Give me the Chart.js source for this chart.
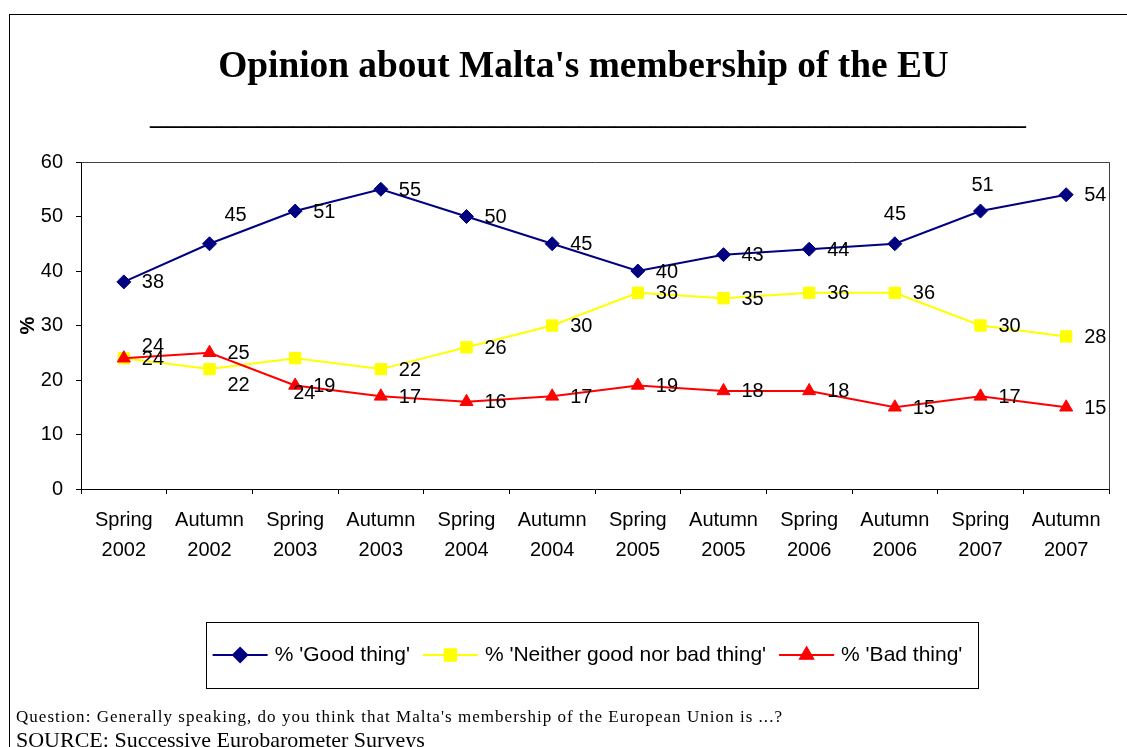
<!DOCTYPE html>
<html>
<head>
<meta charset="utf-8">
<script src="https://cdn.jsdelivr.net/npm/chart.js@4.4.1/dist/chart.umd.min.js"></script>
<style>
html,body{margin:0;padding:0;background:#fff;overflow:hidden;width:1127px;height:747px;}
#wrap{position:relative;width:1127px;height:747px;overflow:hidden;}
#frame{position:absolute;left:9px;top:14px;width:1200px;height:800px;border:1px solid #000;box-sizing:border-box;pointer-events:none;}
canvas{position:absolute;left:0;top:0;}
.note{position:absolute;left:16px;font-family:'Liberation Serif','Times New Roman',serif;color:#000;white-space:nowrap;line-height:1;}
</style>
</head>
<body>
<div id="wrap">
<canvas id="c" width="1127" height="747"></canvas>
<div id="frame"></div>
<div class="note" id="q"></div>
<div class="note" id="s"></div>
</div>
<script>
// ---------- data ----------
const categories = [
  ["Spring","2002"],["Autumn","2002"],["Spring","2003"],["Autumn","2003"],
  ["Spring","2004"],["Autumn","2004"],["Spring","2005"],["Autumn","2005"],
  ["Spring","2006"],["Autumn","2006"],["Spring","2007"],["Autumn","2007"]
];
const goodThing    = [38,45,51,55,50,45,40,43,44,45,51,54];
const neitherThing = [24,22,24,22,26,30,36,35,36,36,30,28];
const badThing     = [24,25,19,17,16,17,19,18,18,15,17,15];
const yTicks = [0,10,20,30,40,50,60];
const seriesNames = ["% 'Good thing'","% 'Neither good nor bad thing'","% 'Bad thing'"];
const chartTitle = "Opinion about Malta's membership of the EU";
const titleRule = "_".repeat(49);
const yAxisTitle = "%";
const questionText = "Question: Generally speaking, do you think that Malta's membership of the European Union is ...?";
const sourceText = "SOURCE: Successive Eurobarometer Surveys";

// ---------- style ----------
const SANS = "'Liberation Sans', Arial, sans-serif";
const SERIF = "'Liberation Serif', 'Times New Roman', serif";
// label nudges (per dataset index -> point index -> [dx,dy]) relative to default right-side placement
const labelNudge = [
  {1:[-3,-29], 9:[-29,-30], 10:[-27,-27]},
  {0:[0,-13], 1:[0,15], 2:[-20,34]},
  {}
];

const mctx = document.createElement('canvas').getContext('2d');
function fitFont(text, weight, family, target, base){
  mctx.font = `${weight} ${base}px ${family}`;
  const w = mctx.measureText(text).width;
  return base * target / w;
}

// footer notes
(function(){
  const q = document.getElementById('q');
  const s = document.getElementById('s');
  q.textContent = questionText;
  s.textContent = sourceText;
  const qs = 17;
  mctx.font = `${qs}px ${SERIF}`;
  const qw = mctx.measureText(questionText).width;
  q.style.fontSize = qs + 'px';
  q.style.letterSpacing = ((767 - qw) / questionText.length) + 'px';
  q.style.top = '708px';
  const ss = fitFont(sourceText, 'normal', SERIF, 409, 20);
  s.style.fontSize = ss + 'px';
  s.style.top = '729px';
})();

const decor = {
  id: 'decor',
  beforeDatasetsDraw(chart){
    const {ctx, chartArea:a} = chart;
    ctx.save();
    ctx.strokeStyle = '#404040';
    ctx.lineWidth = 1;
    ctx.beginPath();
    ctx.moveTo(Math.round(a.left)+0.5, Math.round(a.top)+0.5);
    ctx.lineTo(Math.round(a.right)+0.5, Math.round(a.top)+0.5);
    ctx.lineTo(Math.round(a.right)+0.5, Math.round(a.bottom)+0.5);
    ctx.stroke();
    ctx.restore();
  },
  afterDatasetsDraw(chart){
    const ctx = chart.ctx;
    ctx.save();
    ctx.font = `20px ${SANS}`;
    ctx.fillStyle = '#000';
    ctx.textAlign = 'left';
    ctx.textBaseline = 'middle';
    chart.data.datasets.forEach((ds, i) => {
      const meta = chart.getDatasetMeta(i);
      meta.data.forEach((pt, j) => {
        const n = labelNudge[i][j] || [0,0];
        ctx.fillText(String(ds.data[j]), pt.x + 18 + n[0], pt.y + 1 + n[1]);
      });
    });
    ctx.restore();
  },
  afterDraw(chart){
    const ctx = chart.ctx;
    ctx.save();
    // title
    const ts = fitFont(chartTitle, 'bold', SERIF, 731, 36);
    ctx.font = `bold ${ts}px ${SERIF}`;
    ctx.fillStyle = '#000';
    ctx.textAlign = 'center';
    ctx.textBaseline = 'alphabetic';
    ctx.fillText(chartTitle, 583.5, 77);
    // underscore rule
    const rs = fitFont(titleRule, 'normal', SERIF, 876, 36);
    ctx.font = `${rs}px ${SERIF}`;
    ctx.fillText(titleRule, 588, 123);

    // legend
    ctx.font = `21px ${SANS}`;
    const lineLen = 55, gapT = 7, gapI = 13;
    const widths = seriesNames.map(t => ctx.measureText(t).width);
    const total = widths.reduce((s,w)=>s+w,0) + 3*(lineLen+gapT) + 2*gapI;
    const boxW = total + 22;
    const boxL = 591.5 - boxW/2;
    const boxT = 622, boxH = 66;
    ctx.strokeStyle = '#000';
    ctx.lineWidth = 1;
    ctx.strokeRect(Math.round(boxL)+0.5, boxT+0.5, Math.round(boxW), boxH);
    let x = boxL + 7;
    const cy = 655;
    chart.data.datasets.forEach((ds, i) => {
      ctx.strokeStyle = ds.borderColor;
      ctx.lineWidth = 2;
      ctx.beginPath();
      ctx.moveTo(x, cy); ctx.lineTo(x + lineLen, cy);
      ctx.stroke();
      ctx.fillStyle = ds.backgroundColor;
      Chart.helpers.drawPoint(ctx, {pointStyle: ds.pointStyle, radius: ds.pointRadius, rotation: 0, borderWidth: 1}, x + lineLen/2, cy);
      ctx.fill();
      ctx.lineWidth = 1;
      ctx.stroke();
      ctx.fillStyle = '#000';
      ctx.textAlign = 'left';
      ctx.textBaseline = 'middle';
      ctx.font = `21px ${SANS}`;
      ctx.fillText(ds.label, x + lineLen + gapT, cy);
      x += lineLen + gapT + widths[i] + gapI;
    });
    ctx.restore();
  }
};

new Chart(document.getElementById('c'), {
  type: 'line',
  data: {
    labels: categories,
    datasets: [
      {label: seriesNames[0], data: goodThing, borderColor:'#000080', backgroundColor:'#000080',
       borderWidth:2, pointStyle:'rectRot', pointRadius:7, pointBorderWidth:1, tension:0, order:0},
      {label: seriesNames[1], data: neitherThing, borderColor:'#FFFF00', backgroundColor:'#FFFF00',
       borderWidth:2, pointStyle:'rect', pointRadius:8, pointBorderWidth:1, tension:0, order:2},
      {label: seriesNames[2], data: badThing, borderColor:'#FF0000', backgroundColor:'#FF0000',
       borderWidth:2, pointStyle:'triangle', pointRadius:7.5, pointBorderWidth:1, tension:0, order:1}
    ]
  },
  options: {
    responsive: false,
    animation: false,
    devicePixelRatio: 1,
    layout: {padding: {left:10, top:162, right:18, bottom:182}},
    plugins: {legend:{display:false}, title:{display:false}, tooltip:{enabled:false}},
    scales: {
      x: {
        type:'category', offset:true,
        grid:{offset:true, drawOnChartArea:false, drawTicks:true, tickLength:5, color:'#000', lineWidth:1},
        border:{display:true, color:'#000', width:1},
        ticks:{font:{family:SANS, size:20, lineHeight:1.5}, color:'#000', padding:11, maxRotation:0, minRotation:0, autoSkip:false},
        afterFit(s){ s.height = 76; }
      },
      y: {
        min: yTicks[0], max: yTicks[yTicks.length-1],
        afterBuildTicks(s){ s.ticks = yTicks.map(v => ({value:v})); },
        ticks:{font:{family:SANS, size:20}, color:'#000', padding:13},
        grid:{drawOnChartArea:false, drawTicks:true, tickLength:5, color:'#000'},
        border:{display:true, color:'#000', width:1},
        title:{display:true, text:yAxisTitle, font:{family:SANS, size:20, weight:'bold'}, color:'#000', padding:{top:6, bottom:0}},
        afterFit(s){ s.width = 71; }
      }
    }
  },
  plugins: [decor]
});
</script>
</body>
</html>
